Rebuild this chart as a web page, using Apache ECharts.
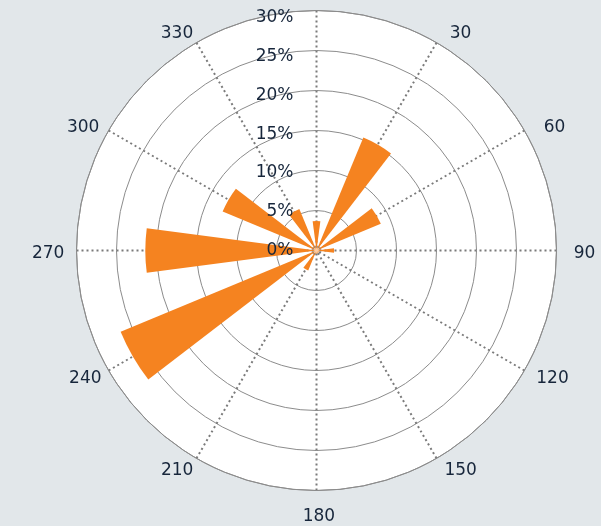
<!DOCTYPE html>
<html>
<head>
<meta charset="utf-8">
<script src="https://cdn.jsdelivr.net/npm/echarts@6/dist/echarts.min.js"></script>
<style>
  html, body { margin: 0; padding: 0; background: #e2e7ea; }
  #chart { width: 601px; height: 526px; }
</style>
</head>
<body>
<div id="chart"></div>
<script>
const directions = ['0', '30', '60', '90', '120', '150', '180', '210', '240', '270', '300', '330'];
const frequencies = [3.7, 15.3, 8.7, 2.2, 0.4, 0.4, 0.4, 2.7, 26.5, 21.4, 12.7, 5.6];
const upperAngleLabels = [30, 60, 300, 330];
const sideAngleLabels = [90, 270];
const lowerAngleLabels = [120, 150, 180, 210, 240];
const radiusMax = 30;
const radiusStep = 5;
const angleStep = 30;

const textColor = '#17263b';
const fontFamily = 'DejaVu Sans';
const fontSize = 17;
const center = [316.5, 250.5];
const radius = 240;
const labelRadius = 232.5;

function labelPolarAxes(polarIndex, margin, shown) {
  return {
    angleAxis: {
      polarIndex: polarIndex,
      type: 'value',
      z: 10,
      min: 0,
      max: 360,
      interval: angleStep,
      startAngle: 90,
      clockwise: true,
      axisLine: { show: false },
      axisTick: { show: false },
      splitLine: { show: false },
      splitArea: { show: false },
      axisLabel: {
        margin: margin,
        lineHeight: 1,
        color: textColor,
        fontFamily: fontFamily,
        fontSize: fontSize,
        formatter: function (v) {
          if (shown.indexOf(v) < 0) return '';
          if (v === 180) return '{low|' + v + '}';
          return String(v);
        },
        rich: {
          low: { color: textColor, fontFamily: fontFamily, fontSize: fontSize, lineHeight: 26 }
        }
      }
    },
    radiusAxis: {
      polarIndex: polarIndex,
      min: 0,
      max: radiusMax,
      show: false
    }
  };
}

const upperAxes = labelPolarAxes(3, 16.5, upperAngleLabels);
const lowerAxes = labelPolarAxes(4, 11, lowerAngleLabels);
const sideAxes = labelPolarAxes(5, 14.7, sideAngleLabels);

const chart = echarts.init(document.getElementById('chart'), null, { renderer: 'canvas' });
chart.setOption({
  backgroundColor: '#e2e7ea',
  animation: false,
  polar: [
    { center: center, radius: radius },
    { center: center, radius: radius },
    { center: center, radius: labelRadius },
    { center: [321.5, 256.3], radius: radius },
    { center: [318.9, 252.8], radius: radius },
    { center: [319.1, 253.5], radius: radius }
  ],
  angleAxis: [
    {
      polarIndex: 0,
      type: 'value',
      z: 1,
      min: 0,
      max: 360,
      interval: angleStep,
      startAngle: 90,
      clockwise: true,
      axisLine: { show: true, lineStyle: { color: '#8c8c8c', width: 1 } },
      axisTick: { show: false },
      axisLabel: { show: false },
      splitLine: { show: true, lineStyle: { color: '#7a7a7a', width: 2, type: [2, 3] } }
    },
    {
      polarIndex: 1,
      type: 'category',
      data: directions,
      startAngle: 90 + angleStep / 2,
      clockwise: true,
      show: false
    },
    {
      polarIndex: 2,
      type: 'value',
      min: 0,
      max: 360,
      startAngle: 90,
      show: false
    },
    upperAxes.angleAxis,
    lowerAxes.angleAxis,
    sideAxes.angleAxis
  ],
  radiusAxis: [
    {
      polarIndex: 0,
      z: 1,
      min: 0,
      max: radiusMax,
      interval: radiusStep,
      axisLine: { show: false },
      axisTick: { show: false },
      axisLabel: { show: false },
      splitLine: { show: true, lineStyle: { color: '#8c8c8c', width: 1 } }
    },
    {
      polarIndex: 1,
      z: -1,
      min: 0,
      max: radiusMax,
      axisLine: { show: false },
      axisTick: { show: false },
      axisLabel: { show: false },
      splitLine: { show: false },
      splitArea: { show: true, areaStyle: { color: ['#ffffff'] } }
    },
    {
      polarIndex: 2,
      z: 10,
      min: 0,
      max: radiusMax,
      interval: radiusStep,
      axisLine: { show: false },
      axisTick: { show: false },
      splitLine: { show: false },
      axisLabel: {
        margin: 23,
        align: 'right',
        color: textColor,
        fontFamily: fontFamily,
        fontSize: fontSize,
        formatter: '{value}%'
      }
    },
    upperAxes.radiusAxis,
    lowerAxes.radiusAxis,
    sideAxes.radiusAxis
  ],
  series: [
    {
      type: 'bar',
      coordinateSystem: 'polar',
      polarIndex: 1,
      z: 3,
      data: frequencies,
      barCategoryGap: '50%',
      itemStyle: { color: '#f58320' }
    }
  ]
});
</script>
</body>
</html>
